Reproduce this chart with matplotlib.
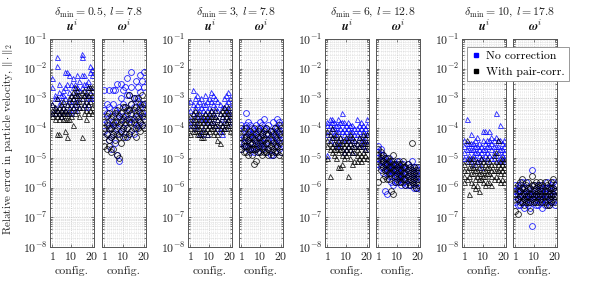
import numpy as np
import matplotlib
matplotlib.use("Agg")
import matplotlib.pyplot as plt
from matplotlib.ticker import LogLocator, NullFormatter, FixedLocator, MultipleLocator
from matplotlib.lines import Line2D

plt.rcParams['font.family'] = 'serif'
plt.rcParams['font.serif'] = ['cmr10', 'DejaVu Serif']
plt.rcParams['mathtext.fontset'] = 'cm'
plt.rcParams['axes.formatter.use_mathtext'] = True

configs = list(range(1, 21))
group_titles = [r"$\delta_{\min} = 0.5$, $l = 7.8$", r"$\delta_{\min} = 3$, $l = 7.8$",
                r"$\delta_{\min} = 6$, $l = 12.8$", r"$\delta_{\min} = 10$, $l = 17.8$"]
sub_titles = [r"$\boldsymbol{u}^i$", r"$\boldsymbol{\omega}^i$"]
legend_labels = ["No correction", "With pair-corr."]

# log10 of relative error, 4 particles per configuration (config 1..20)
u05_blue = [[-2.3,-2.6,-3.2,-3.5],[-2.9,-3.3,-3.5,-3.0],[-1.6,-1.9,-3.0,-3.4],[-2.5,-2.8,-3.2,-3.5],[-2.9,-3.1,-3.4,-3.6],
            [-2.7,-2.9,-3.3,-3.5],[-2.1,-2.6,-3.0,-3.4],[-2.1,-2.5,-3.2,-3.5],[-2.2,-2.8,-3.1,-3.4],[-2.5,-2.9,-3.2,-3.5],
            [-2.3,-2.6,-3.0,-3.3],[-2.5,-2.8,-3.1,-3.4],[-2.2,-2.6,-2.9,-3.2],[-2.4,-2.7,-3.0,-3.3],[-1.5,-1.6,-2.2,-2.6],
            [-2.2,-2.5,-2.9,-3.2],[-2.5,-2.8,-3.0,-3.3],[-2.4,-2.6,-2.9,-3.2],[-1.9,-2.1,-2.6,-3.0],[-2.0,-2.2,-2.7,-3.0]]
u05_black = [[-3.2,-3.4,-3.6,-3.5],[-3.3,-3.5,-3.7,-3.4],[-3.0,-3.4,-3.6,-4.2],[-3.3,-3.5,-3.7,-4.2],[-3.2,-3.4,-3.6,-3.5],
             [-3.1,-3.3,-3.5,-3.7],[-3.4,-3.5,-3.7,-4.1],[-3.2,-3.5,-3.7,-4.3],[-3.0,-3.3,-3.5,-3.7],[-2.9,-3.1,-3.4,-3.6],
             [-2.8,-3.0,-3.3,-3.9],[-2.6,-2.9,-3.2,-3.5],[-2.7,-2.9,-3.1,-3.4],[-2.9,-3.1,-3.3,-3.6],[-2.8,-3.0,-3.3,-4.3],
             [-2.7,-2.9,-3.2,-3.5],[-2.9,-3.1,-3.4,-3.7],[-2.6,-2.9,-3.2,-3.5],[-2.6,-2.8,-3.1,-3.4],[-2.6,-2.9,-3.3,-3.5]]
w05_blue = [[-2.7,-3.4,-3.7,-4.1],[-3.5,-3.8,-4.2,-3.2],[-2.7,-3.3,-3.9,-4.4],[-3.6,-4.0,-4.3,-4.7],[-2.7,-3.2,-3.8,-4.2],
            [-2.7,-3.4,-3.9,-4.5],[-2.5,-3.5,-4.0,-4.9],[-3.3,-3.6,-4.2,-5.1],[-2.5,-3.0,-3.7,-4.1],[-2.7,-3.2,-3.6,-4.0],
            [-2.6,-3.3,-3.8,-4.3],[-2.3,-2.9,-3.5,-4.0],[-2.9,-3.4,-3.7,-4.2],[-2.1,-2.6,-3.2,-3.7],[-3.0,-3.3,-3.8,-4.2],
            [-2.4,-3.0,-3.5,-4.0],[-2.6,-3.1,-3.6,-3.9],[-2.2,-2.8,-3.3,-3.8],[-2.4,-3.2,-3.5,-3.9],[-2.1,-2.6,-3.2,-3.6]]
w05_black = [[-3.8,-4.0,-4.3,-4.6],[-3.6,-3.9,-4.2,-4.7],[-3.5,-4.0,-4.4,-4.6],[-3.7,-4.0,-4.3,-4.8],[-3.6,-3.9,-4.2,-4.7],
             [-3.5,-3.8,-4.1,-4.4],[-3.4,-3.8,-4.2,-4.9],[-3.6,-3.9,-4.3,-5.0],[-3.5,-3.8,-4.1,-4.5],[-3.3,-3.7,-4.0,-4.3],
             [-3.3,-3.6,-3.9,-4.2],[-3.4,-3.7,-4.0,-4.3],[-2.9,-3.4,-3.8,-4.2],[-3.2,-3.5,-3.8,-4.1],[-3.0,-3.4,-3.7,-4.0],
             [-3.3,-3.6,-3.9,-4.3],[-3.0,-3.4,-3.7,-4.0],[-3.2,-3.5,-3.8,-4.1],[-2.9,-3.3,-3.6,-3.9],[-3.2,-3.5,-3.7,-4.0]]

u3_blue = [[-3.1,-3.4,-3.7,-3.9],[-2.7,-3.2,-3.5,-3.8],[-3.0,-3.3,-3.6,-4.0],[-2.9,-3.2,-3.5,-3.9],[-3.1,-3.4,-3.7,-4.2],
           [-3.0,-3.3,-3.6,-4.2],[-3.2,-3.4,-3.7,-4.0],[-2.9,-3.2,-3.5,-3.8],[-3.1,-3.4,-3.7,-4.2],[-3.0,-3.3,-3.6,-3.9],
           [-2.8,-3.1,-3.4,-3.8],[-2.9,-3.2,-3.5,-3.8],[-3.0,-3.3,-3.6,-3.9],[-3.1,-3.4,-3.7,-4.0],[-3.2,-3.5,-3.8,-4.1],
           [-3.3,-3.6,-3.9,-4.2],[-3.0,-3.3,-3.7,-4.0],[-2.9,-3.2,-3.5,-3.8],[-2.8,-3.1,-3.4,-3.7],[-3.0,-3.3,-3.6,-3.9]]
u3_black = [[-3.6,-3.8,-4.0,-4.2],[-3.5,-3.7,-3.9,-4.1],[-3.4,-3.7,-3.9,-4.1],[-3.6,-3.8,-4.0,-4.2],[-3.5,-3.8,-4.0,-4.2],
            [-3.7,-3.9,-4.1,-4.3],[-3.6,-3.8,-4.1,-4.3],[-3.5,-3.7,-3.9,-4.1],[-3.8,-4.0,-4.2,-3.6],[-3.5,-3.7,-3.9,-4.1],
            [-3.4,-3.6,-3.8,-4.0],[-3.6,-3.8,-4.0,-4.2],[-3.4,-3.6,-3.9,-4.1],[-3.7,-3.9,-4.2,-4.4],[-3.5,-3.8,-4.0,-4.5],
            [-3.4,-3.6,-3.9,-4.1],[-3.3,-3.5,-3.8,-4.0],[-3.4,-3.6,-3.8,-4.0],[-3.3,-3.5,-3.7,-3.9],[-3.5,-3.7,-3.9,-4.1]]
w3_blue = [[-3.9,-4.2,-4.5,-4.7],[-4.0,-4.3,-4.5,-4.6],[-3.5,-3.9,-4.3,-4.6],[-3.8,-4.1,-4.4,-4.7],[-3.9,-4.2,-4.5,-4.8],
           [-4.0,-4.2,-4.5,-4.7],[-4.1,-4.3,-4.6,-4.8],[-3.9,-4.2,-4.4,-4.7],[-4.0,-4.3,-4.5,-4.8],[-3.8,-4.1,-4.4,-4.6],
           [-3.9,-4.2,-4.5,-4.7],[-3.7,-4.0,-4.3,-4.6],[-4.0,-4.2,-4.5,-4.8],[-3.9,-4.2,-4.4,-4.7],[-4.1,-4.3,-4.6,-4.9],
           [-3.8,-4.1,-4.4,-4.9],[-4.0,-4.2,-4.5,-4.8],[-3.7,-4.0,-4.3,-4.6],[-3.8,-4.1,-4.4,-4.7],[-3.9,-4.2,-4.5,-4.8]]
w3_black = [[-4.0,-4.3,-4.5,-4.7],[-4.1,-4.4,-4.6,-4.8],[-4.0,-4.3,-4.6,-4.8],[-4.2,-4.4,-4.6,-4.9],[-4.1,-4.3,-4.5,-4.7],
            [-4.3,-4.5,-4.7,-4.9],[-4.0,-4.4,-4.7,-5.2],[-4.2,-4.5,-4.7,-5.1],[-4.1,-4.3,-4.6,-4.8],[-4.0,-4.3,-4.5,-4.8],
            [-4.2,-4.4,-4.6,-4.9],[-4.1,-4.4,-4.7,-4.8],[-4.0,-4.2,-4.5,-4.8],[-4.2,-4.5,-4.7,-4.9],[-4.1,-4.4,-4.6,-4.8],
            [-4.2,-4.5,-4.7,-4.9],[-4.0,-4.3,-4.6,-4.8],[-4.1,-4.4,-4.6,-4.8],[-3.9,-4.2,-4.5,-4.9],[-4.0,-4.3,-4.6,-4.8]]

u6_blue = [[-3.8,-3.9,-4.2,-4.9],[-3.7,-3.9,-4.1,-4.4],[-3.7,-3.8,-4.0,-4.3],[-3.8,-4.0,-4.2,-4.5],[-3.9,-4.1,-4.3,-4.6],
           [-3.7,-3.9,-4.1,-4.5],[-3.8,-4.0,-4.3,-4.6],[-3.5,-3.8,-4.1,-4.4],[-3.8,-4.0,-4.2,-4.8],[-3.9,-4.1,-4.4,-4.7],
           [-3.8,-4.0,-4.3,-4.6],[-3.9,-4.1,-4.3,-4.5],[-3.9,-4.1,-4.4,-4.8],[-4.0,-4.2,-4.4,-4.6],[-3.7,-4.0,-4.2,-4.5],
           [-3.9,-4.1,-4.3,-4.6],[-3.8,-4.0,-4.3,-4.5],[-3.9,-4.1,-4.4,-4.6],[-4.0,-4.2,-4.4,-4.7],[-3.7,-3.9,-4.2,-4.5]]
u6_black = [[-4.1,-4.4,-4.6,-5.0],[-4.2,-4.5,-4.7,-5.6],[-4.0,-4.3,-4.6,-4.8],[-4.3,-4.5,-4.7,-4.9],[-4.2,-4.5,-4.7,-5.0],
            [-4.4,-4.6,-4.8,-5.3],[-4.3,-4.5,-4.7,-5.3],[-4.5,-4.7,-4.9,-5.2],[-4.4,-4.6,-4.8,-5.0],[-4.3,-4.5,-4.7,-4.9],
            [-4.4,-4.6,-4.8,-5.6],[-4.2,-4.5,-4.7,-5.0],[-4.3,-4.6,-4.8,-5.2],[-4.4,-4.6,-4.8,-5.1],[-4.5,-4.7,-4.9,-5.1],
            [-4.3,-4.6,-4.8,-5.0],[-4.4,-4.6,-4.9,-5.1],[-4.2,-4.5,-4.8,-5.0],[-4.3,-4.5,-4.7,-4.9],[-4.2,-4.5,-4.7,-5.0]]
w6_blue = [[-4.6,-4.8,-5.0,-5.2],[-4.7,-4.9,-5.1,-5.3],[-4.9,-5.1,-5.3,-5.5],[-5.0,-5.2,-5.4,-6.1],[-5.1,-5.3,-5.5,-6.2],
           [-5.0,-5.2,-5.4,-5.6],[-5.2,-5.4,-5.6,-5.8],[-5.1,-5.3,-5.5,-5.9],[-5.2,-5.4,-5.6,-5.8],[-5.2,-5.4,-5.6,-5.8],
           [-5.1,-5.3,-5.5,-5.7],[-5.3,-5.5,-5.7,-5.9],[-5.2,-5.4,-5.6,-5.8],[-5.3,-5.5,-5.7,-5.9],[-5.2,-5.4,-5.6,-5.9],
           [-5.3,-5.5,-5.7,-5.9],[-5.1,-5.4,-5.6,-5.8],[-5.3,-5.5,-5.7,-6.0],[-5.3,-5.5,-5.7,-6.0],[-5.4,-5.6,-5.8,-6.0]]
w6_black = [[-4.7,-4.9,-5.1,-5.8],[-4.8,-5.0,-5.2,-5.4],[-4.9,-5.1,-5.3,-5.7],[-5.0,-5.2,-5.4,-5.6],[-5.0,-5.2,-5.4,-5.7],
            [-5.1,-5.3,-5.5,-5.7],[-5.1,-5.3,-5.5,-6.1],[-4.9,-5.2,-5.4,-6.2],[-5.2,-5.4,-5.6,-5.8],[-5.1,-5.3,-5.5,-5.7],
            [-5.2,-5.4,-5.6,-5.8],[-5.2,-5.4,-5.6,-5.8],[-5.1,-5.3,-5.5,-5.7],[-5.3,-5.5,-5.7,-5.9],[-5.2,-5.4,-5.6,-5.8],
            [-5.3,-5.5,-5.7,-5.9],[-4.5,-5.4,-5.6,-5.8],[-5.3,-5.5,-5.7,-5.9],[-5.4,-5.6,-5.8,-6.0],[-5.3,-5.5,-5.7,-5.9]]

u10_blue = [[-4.4,-4.6,-4.8,-5.0],[-3.7,-4.5,-4.7,-5.0],[-4.5,-4.7,-4.9,-5.1],[-4.2,-4.5,-4.7,-5.0],[-4.5,-4.7,-4.9,-5.2],
            [-4.4,-4.6,-4.8,-5.0],[-4.3,-4.6,-4.8,-5.1],[-4.5,-4.7,-4.9,-5.1],[-4.6,-4.8,-5.0,-5.3],[-4.1,-4.4,-4.7,-5.0],
            [-4.1,-4.5,-4.7,-4.9],[-4.4,-4.6,-4.8,-5.1],[-4.1,-4.4,-4.6,-4.9],[-4.3,-4.5,-4.7,-5.0],[-4.4,-4.6,-4.8,-5.0],
            [-3.5,-4.3,-4.6,-4.9],[-4.4,-4.6,-4.8,-5.1],[-3.9,-4.4,-4.7,-5.0],[-4.5,-4.7,-4.9,-5.1],[-4.4,-4.6,-4.8,-5.0]]
u10_black = [[-5.2,-5.4,-5.6,-5.8],[-4.4,-5.1,-5.4,-5.7],[-5.0,-5.3,-5.6,-6.2],[-5.1,-5.3,-5.5,-5.8],[-5.0,-5.3,-5.5,-5.9],
             [-5.2,-5.4,-5.7,-6.0],[-5.1,-5.4,-5.6,-5.9],[-5.3,-5.5,-5.7,-6.1],[-5.0,-5.2,-5.5,-5.7],[-5.1,-5.4,-5.6,-5.8],
             [-5.2,-5.4,-5.6,-5.9],[-5.0,-5.3,-5.5,-5.8],[-5.1,-5.3,-5.5,-5.8],[-5.2,-5.4,-5.6,-5.9],[-4.9,-5.2,-5.4,-5.7],
             [-4.8,-5.1,-5.4,-5.6],[-4.4,-5.2,-5.4,-5.7],[-5.1,-5.3,-5.5,-5.8],[-5.0,-5.2,-5.4,-5.7],[-5.1,-5.3,-5.5,-5.8]]
w10_blue = [[-5.9,-6.1,-6.3,-6.5],[-6.0,-6.2,-6.4,-6.6],[-5.9,-6.1,-6.3,-6.6],[-5.8,-6.0,-6.2,-6.5],[-6.0,-6.2,-6.4,-6.7],
            [-5.8,-6.1,-6.3,-6.5],[-6.0,-6.2,-6.4,-6.6],[-6.1,-6.3,-6.5,-6.7],[-5.4,-6.2,-6.4,-7.3],[-5.9,-6.1,-6.3,-6.5],
            [-6.0,-6.2,-6.4,-6.6],[-5.9,-6.1,-6.3,-6.6],[-5.9,-6.1,-6.3,-6.5],[-6.0,-6.2,-6.4,-6.7],[-6.0,-6.2,-6.4,-6.6],
            [-5.8,-6.0,-6.3,-6.5],[-6.0,-6.2,-6.4,-6.6],[-5.9,-6.1,-6.3,-6.5],[-5.8,-6.0,-6.2,-6.5],[-5.9,-6.1,-6.3,-6.6]]
w10_black = [[-6.0,-6.2,-6.4,-6.8],[-5.9,-6.1,-6.4,-6.9],[-5.8,-6.1,-6.3,-6.5],[-5.7,-6.0,-6.3,-6.5],[-6.0,-6.2,-6.4,-6.6],
             [-5.9,-6.1,-6.3,-6.5],[-5.8,-6.0,-6.3,-6.5],[-6.0,-6.2,-6.5,-6.8],[-5.6,-5.9,-6.2,-6.4],[-5.9,-6.1,-6.3,-6.5],
             [-5.8,-6.0,-6.2,-6.5],[-5.9,-6.1,-6.3,-6.5],[-5.8,-6.0,-6.2,-6.4],[-5.9,-6.1,-6.3,-6.5],[-5.8,-6.1,-6.3,-6.5],
             [-5.9,-6.1,-6.3,-6.6],[-6.0,-6.2,-6.4,-6.6],[-5.8,-6.0,-6.3,-6.5],[-5.7,-6.0,-6.2,-6.4],[-5.9,-6.1,-6.3,-6.5]]

panels = [(u05_blue, u05_black, '^'), (w05_blue, w05_black, 'o'),
          (u3_blue, u3_black, '^'), (w3_blue, w3_black, 'o'),
          (u6_blue, u6_black, '^'), (w6_blue, w6_black, 'o'),
          (u10_blue, u10_black, '^'), (w10_blue, w10_black, 'o')]

W, H = 598, 285
fig = plt.figure(figsize=(W / 100, H / 100), dpi=100)
lefts = [50, 102, 188, 239, 325, 376, 462, 513]
aw = 44
bottom = 1 - 247 / H
height = (247 - 39) / H

blue = '#0000ff'
black = '#000000'
axes = []
for i, (bl, bk, mk) in enumerate(panels):
    ax = fig.add_axes([lefts[i] / W, bottom, aw / W, height])
    axes.append(ax)
    for data, col in ((bl, blue), (bk, black)):
        xs = np.repeat(configs, [len(v) for v in data])
        ys = 10 ** np.concatenate([np.array(v) for v in data])
        ms = 3.6 if mk == '^' else 4.2
        ax.plot(xs, ys, linestyle='none', marker=mk, mfc='none', mec=col,
                ms=ms, mew=0.6, alpha=0.85)
    ax.set_yscale('log')
    ax.set_ylim(1e-8, 1e-1)
    ax.set_xlim(-0.2, 21)
    ax.xaxis.set_major_locator(FixedLocator([1, 10, 20]))
    ax.xaxis.set_minor_locator(MultipleLocator(1))
    ax.yaxis.set_major_locator(LogLocator(base=10, numticks=20))
    ax.yaxis.set_minor_locator(LogLocator(base=10, subs=np.arange(2, 10), numticks=20))
    ax.yaxis.set_minor_formatter(NullFormatter())
    ax.grid(True, which='major', color='#b0b0b0', linestyle=':', linewidth=0.5)
    ax.grid(True, which='minor', color='#c8c8c8', linestyle=':', linewidth=0.4)
    ax.set_axisbelow(True)
    ax.tick_params(which='both', direction='in', top=True, right=True, labelsize=8.5,
                   colors='#444444', labelcolor='#222222', width=0.5)
    ax.tick_params(which='major', length=2.5, pad=2)
    ax.tick_params(which='minor', length=1.2)
    ax.tick_params(axis='x', which='minor', length=0)
    for s in ax.spines.values():
        s.set_color('#555555')
        s.set_linewidth(0.7)
    if i % 2 == 1:
        ax.set_yticklabels([])
    ax.set_xlabel("config.", fontsize=8.5, labelpad=3, color='#222222')
    fig.text((lefts[i] + aw / 2) / W, 1 - 26 / H, sub_titles[i % 2], ha='center', va='center',
             fontsize=9, color='#111111')

for g in range(4):
    cx = (lefts[2 * g] + lefts[2 * g + 1] + aw) / 2 / W
    fig.text(cx, 1 - 12 / H, group_titles[g], ha='center', va='center', fontsize=8.5, color='#222222')

fig.text(8 / W, 1 - 139 / H, r"Relative error in particle velocity, $\|\cdot\|_2$",
         rotation=90, ha='center', va='center', fontsize=8, color='#222222')

handles = [Line2D([], [], linestyle='none', marker='s', color=blue, ms=3.5),
           Line2D([], [], linestyle='none', marker='s', color=black, ms=3.5)]
leg = fig.legend(handles, legend_labels, loc='upper left',
                 bbox_to_anchor=(467 / W, 1 - 47 / H), fontsize=8.5, frameon=True,
                 fancybox=False, edgecolor='#888888', framealpha=1, handlelength=0.8,
                 handletextpad=0.5, borderpad=0.35, labelspacing=0.45, borderaxespad=0)
leg.get_frame().set_linewidth(0.6)

fig.savefig("out.png", dpi=100)
